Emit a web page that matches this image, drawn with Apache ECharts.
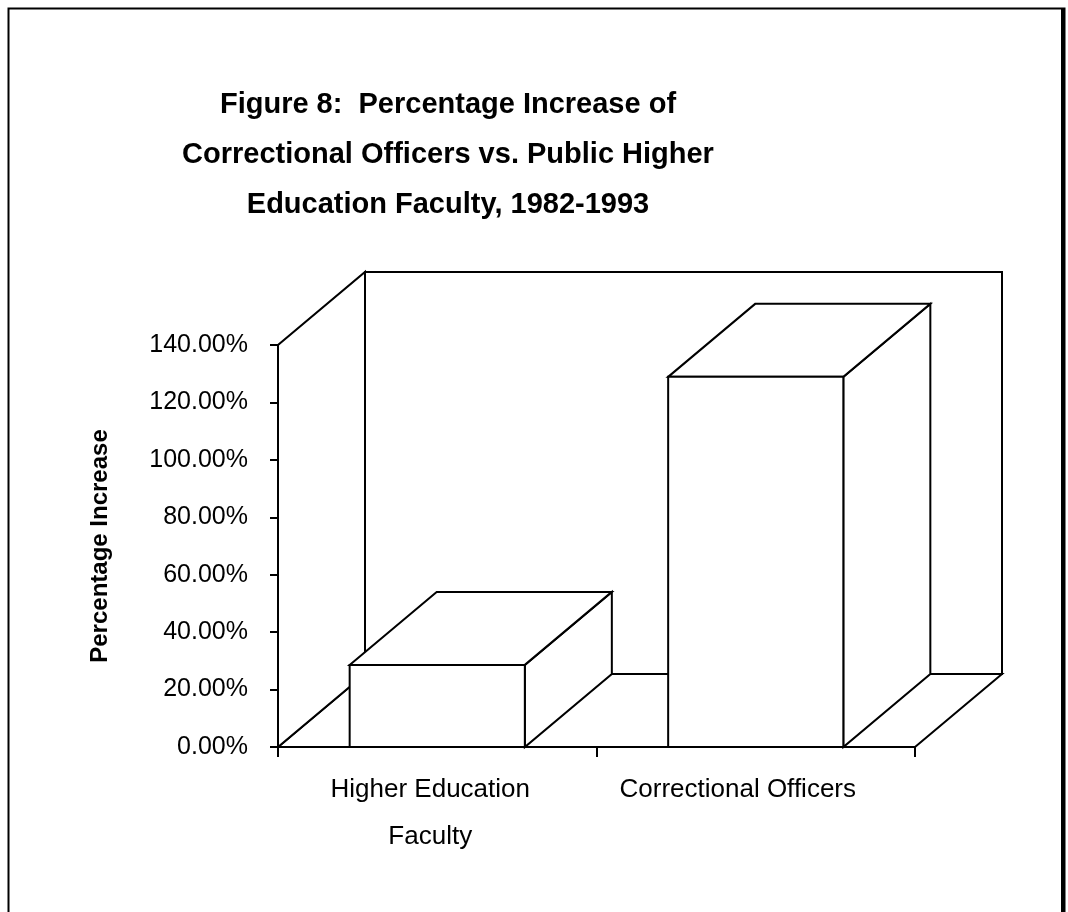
<!DOCTYPE html>
<html>
<head>
<meta charset="utf-8">
<title>Figure 8</title>
<script src="https://cdn.jsdelivr.net/npm/echarts@6/dist/echarts.min.js"></script>
<style>
  html, body { margin: 0; padding: 0; background: #ffffff; }
  #chart { width: 1068px; height: 912px; }
</style>
</head>
<body>
<div id="chart"></div>
<script>
// Categories and their percentage increase, 1982-1993
const categories = ['Higher Education\nFaculty', 'Correctional Officers'];
const increases = [28.6, 128.9];

// Value axis range (percent)
const yMin = 0;
const yMax = 140;
const yStep = 20;

const FONT = '"Liberation Sans", Arial, Helvetica, sans-serif';
const INK = '#000000';
const LINE_W = 2;
// Oblique projection of the chart's depth
const DEPTH_X = 87;
const DEPTH_Y = 73;
const BAR_RATIO = 0.55;

const chart = echarts.init(document.getElementById('chart'), null, { renderer: 'canvas' });

// Back wall, floor and side wall of the 3-D plot area
function renderWalls(params, api) {
  const n = categories.length;
  const band = api.size([1, 0])[0];
  const left = api.coord([0, yMin])[0] - band / 2;
  const right = api.coord([n - 1, yMin])[0] + band / 2;
  const yb = api.coord([0, yMin])[1];
  const yt = api.coord([0, yMax])[1];
  const style = { fill: '#ffffff', stroke: INK, lineWidth: LINE_W, lineJoin: 'miter' };
  return {
    type: 'group',
    children: [
      { type: 'rect', shape: { x: left + DEPTH_X, y: yt - DEPTH_Y, width: right - left, height: yb - yt }, style: style },
      { type: 'polygon', shape: { points: [[left, yb], [right, yb], [right + DEPTH_X, yb - DEPTH_Y], [left + DEPTH_X, yb - DEPTH_Y]] }, style: style },
      { type: 'polygon', shape: { points: [[left, yb], [left, yt], [left + DEPTH_X, yt - DEPTH_Y], [left + DEPTH_X, yb - DEPTH_Y]] }, style: style }
    ]
  };
}

// One 3-D box per category: front face, top face and right face
function renderBox(params, api) {
  const idx = api.value(0);
  const val = api.value(1);
  const band = api.size([1, 0])[0];
  const w = band * BAR_RATIO;
  const base = api.coord([idx, yMin]);
  const top = api.coord([idx, val]);
  const x0 = base[0] - w / 2;
  const x1 = base[0] + w / 2;
  const y0 = base[1];
  const y1 = top[1];
  const style = { fill: '#ffffff', stroke: INK, lineWidth: LINE_W, lineJoin: 'miter' };
  return {
    type: 'group',
    children: [
      { type: 'polygon', shape: { points: [[x1, y0], [x1, y1], [x1 + DEPTH_X, y1 - DEPTH_Y], [x1 + DEPTH_X, y0 - DEPTH_Y]] }, style: style },
      { type: 'polygon', shape: { points: [[x0, y1], [x1, y1], [x1 + DEPTH_X, y1 - DEPTH_Y], [x0 + DEPTH_X, y1 - DEPTH_Y]] }, style: style },
      { type: 'rect', shape: { x: x0, y: y1, width: w, height: y0 - y1 }, style: style }
    ]
  };
}

const option = {
  backgroundColor: '#ffffff',
  animation: false,
  title: {
    text: 'Figure 8:  Percentage Increase of\nCorrectional Officers vs. Public Higher\nEducation Faculty, 1982-1993',
    left: 443,
    top: 75,
    textAlign: 'center',
    textStyle: {
      fontFamily: FONT,
      fontSize: 29,
      fontWeight: 'bold',
      color: INK,
      lineHeight: 50,
      align: 'center'
    }
  },
  graphic: [
    { type: 'rect', left: 6, top: 6, shape: { width: 1056, height: 920 }, style: { fill: 'none', stroke: INK, lineWidth: 2 }, silent: true },
    { type: 'rect', left: 1061, top: 8, shape: { width: 3, height: 920 }, style: { fill: INK }, silent: true }
  ],
  grid: { left: 278, right: 153, top: 345, bottom: 165, containLabel: false },
  xAxis: {
    type: 'category',
    data: categories,
    boundaryGap: true,
    axisLine: { show: true, lineStyle: { color: INK, width: LINE_W } },
    axisTick: { show: true, inside: false, length: 10, alignWithLabel: false, lineStyle: { color: INK, width: LINE_W } },
    splitLine: { show: false },
    axisLabel: {
      interval: 0,
      margin: 19,
      color: INK,
      fontFamily: FONT,
      fontSize: 26,
      lineHeight: 47,
      formatter: function (value, index) {
        return value.split('\n').map(function (s) { return '{c' + index + '|' + s + '}'; }).join('\n');
      },
      rich: {
        c0: { fontFamily: FONT, fontSize: 26, color: INK, lineHeight: 47, padding: [0, 14, 0, 0] },
        c1: { fontFamily: FONT, fontSize: 26, color: INK, lineHeight: 47, padding: [0, 36, 0, 0] }
      }
    }
  },
  yAxis: {
    type: 'value',
    min: yMin,
    max: yMax,
    interval: yStep,
    name: 'Percentage Increase',
    nameLocation: 'middle',
    nameRotate: 90,
    nameGap: 166,
    nameTextStyle: { fontFamily: FONT, fontSize: 24, fontWeight: 'bold', color: INK },
    axisLine: { show: true, lineStyle: { color: INK, width: LINE_W } },
    axisTick: { show: true, inside: false, length: 8, lineStyle: { color: INK, width: LINE_W } },
    splitLine: { show: false },
    axisLabel: {
      margin: 30,
      color: INK,
      fontFamily: FONT,
      fontSize: 25,
      formatter: function (v) { return v.toFixed(2) + '%'; }
    }
  },
  series: [
    {
      type: 'custom',
      name: 'walls',
      silent: true,
      z: 1,
      renderItem: renderWalls,
      data: [[0, yMin]]
    },
    {
      type: 'custom',
      name: 'Percentage Increase',
      z: 3,
      renderItem: renderBox,
      encode: { x: 0, y: 1 },
      data: increases.map(function (v, i) { return [i, v]; })
    }
  ]
};

chart.setOption(option);
</script>
</body>
</html>
